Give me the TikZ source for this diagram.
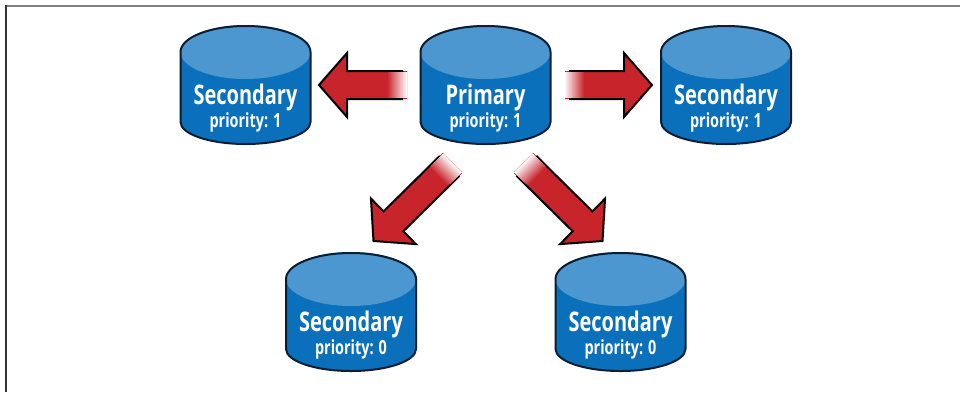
\documentclass[tikz,border=0pt]{standalone}
\usepackage{fontspec}
\setmainfont{Open Sans}[FakeStretch=0.74,BoldFont={Open Sans Bold}]
\usetikzlibrary{calc}
\definecolor{dbbody}{HTML}{0B70BC}
\definecolor{dbtop}{HTML}{4C97D0}
\definecolor{dbline}{HTML}{0A1E30}
\definecolor{fatred}{HTML}{C8242B}
\tikzset{
  dblabel/.style={inner sep=0pt,text=white,align=center,font=\bfseries},
  fatline/.style={draw=black,line width=2pt,line join=miter},
  frametop/.style={draw=black!50,line width=2pt},
  frameleft/.style={draw=black!80,line width=2pt},
}
% #1 node name, #2 centre x, #3 top-of-side y, #4 main label, #5 second line
\newcommand{\dbcyl}[5]{%
  \path[fill=dbbody] (#2-65,#3) arc[start angle=180,end angle=360,x radius=65,y radius=26]
    -- (#2+65,#3+70) arc[start angle=0,end angle=180,x radius=65,y radius=22] -- cycle;
  \path[fill=dbtop] (#2,#3) ellipse[x radius=65,y radius=27];
  \draw[draw=dbline,line width=2pt] (#2-65,#3) arc[start angle=180,end angle=360,x radius=65,y radius=26]
    -- (#2+65,#3+70) arc[start angle=0,end angle=180,x radius=65,y radius=22] -- cycle;
  \node[dblabel] (#1) at (#2,#3+56) {\fontsize{27}{27}\selectfont #4\\\fontsize{19.5}{25}\selectfont #5};
}
% #1 tail coordinate, #2 tip coordinate
\newcommand{\fatarrow}[2]{%
  \path let \p1=($(#2)-(#1)$) in \pgfextra{%
    \pgfmathsetmacro{\fatang}{atan2(\y1,\x1)}%
    \pgfmathsetmacro{\fatlen}{veclen(\x1,\y1)}%
    \xdef\fatang{\fatang}\xdef\fatlen{\fatlen}};
  \begin{scope}[shift={(#2)},rotate=\fatang,x=1pt,y=1pt]
    \fill[fatred] (0,0) -- (-28,32) -- (-28,14) -- (-\fatlen,14) -- (-\fatlen,-14) -- (-28,-14) -- (-28,-32) -- cycle;
    \draw[fatline] (-\fatlen+4,14) -- (-28,14) -- (-28,32) -- (0,0) -- (-28,-32) -- (-28,-14) -- (-\fatlen+4,-14);
    \foreach \k in {1,...,20}{
      \pgfmathsetmacro{\mixp}{100-5*\k}
      \fill[fatred!\mixp!white] (-\fatlen+20-\k,-13) rectangle (-\fatlen,13);
    }
  \end{scope}%
}
\begin{document}
\begin{tikzpicture}[x=1pt,y=-1pt]
  \useasboundingbox (0,0) rectangle (960,392);
  \draw[frametop] (5,5.5) -- (960,5.5);
  \draw[frameleft] (5.5,5) -- (5.5,392);

  \dbcyl{sa}{245.5}{52}{Secondary}{priority: 1}
  \dbcyl{pr}{485.5}{52}{Primary}{priority: 1}
  \dbcyl{sb}{726}{52}{Secondary}{priority: 1}
  \dbcyl{sc}{351}{279}{Secondary}{priority: 0}
  \dbcyl{sd}{620.5}{279}{Secondary}{priority: 0}

  \coordinate (tailA) at (407,85);   \coordinate (tipA) at (319,85);
  \coordinate (tailB) at (565,85);   \coordinate (tipB) at (652,85);
  \coordinate (tailC) at (452.5,163); \coordinate (tipC) at (373.5,241);
  \coordinate (tailD) at (523.5,163); \coordinate (tipD) at (602.5,241);
  \fatarrow{tailA}{tipA}
  \fatarrow{tailB}{tipB}
  \fatarrow{tailC}{tipC}
  \fatarrow{tailD}{tipD}
\end{tikzpicture}
\end{document}
